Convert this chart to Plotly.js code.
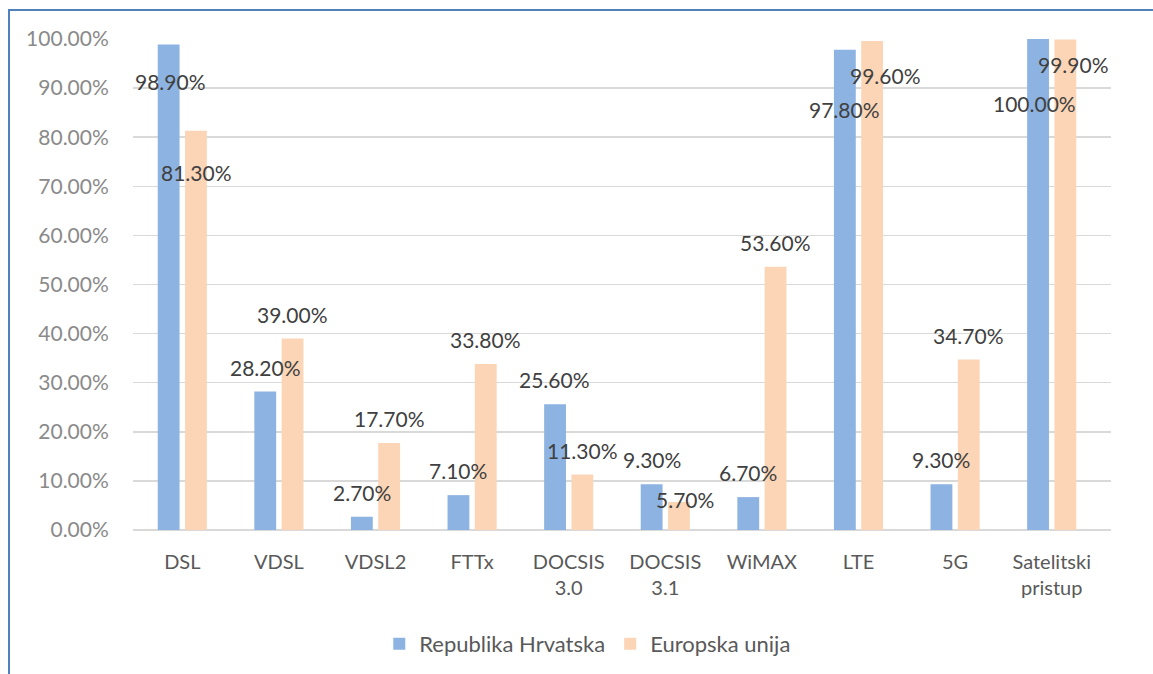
<!DOCTYPE html>
<html>
<head>
<meta charset="utf-8">
<script src="https://cdn.plot.ly/plotly-3.0.1.min.js"></script>
<style>
  html, body { margin: 0; padding: 0; background: #fff; }
  #wrap { position: relative; width: 1153px; height: 674px; overflow: hidden; }
  #chart { position: absolute; left: 0; top: 0; width: 1153px; height: 674px; }
  #frame { position: absolute; left: 8px; top: 9px; width: 1200px; height: 700px;
           border-left: 2px solid #4f81bd; border-top: 2px solid #4f81bd; pointer-events: none; }
</style>
</head>
<body>
<div id="wrap">
  <div id="chart"></div>
  <div id="frame"></div>
</div>
<script>
const categories = ["DSL", "VDSL", "VDSL2", "FTTx", "DOCSIS<br>3.0", "DOCSIS<br>3.1", "WiMAX", "LTE", "5G", "Satelitski<br>pristup"];
const seriesNames = ["Republika Hrvatska", "Europska unija"];
const croatia = [0.989, 0.282, 0.027, 0.071, 0.256, 0.093, 0.067, 0.978, 0.093, 1.000];
const eu      = [0.813, 0.390, 0.177, 0.338, 0.113, 0.057, 0.536, 0.996, 0.347, 0.999];

// label placement offsets (pixels) mimicking the original data-label positions
const hrLabelDx = [2, 0, 0, 0, 0, 0, 0, 0, 0, -3];
const hrLabelDy = [-37, 24.5, 24.5, 24.5, 24.5, 24.5, 24.5, -60, 24.5, -64];
const euLabelDx = [0, 0, 0, 0, 0, 6, 0, 13.5, 0, 8];
const euLabelDy = [-42, 24.5, 24.5, 24.5, 24.5, 2.5, 24.5, -35, 24.5, -25.5];

const colors = ["#8db3e2", "#fbd5b5"];
const fontFam = "Lato, 'Open Sans', sans-serif";

const traces = [
  { type: "bar", name: seriesNames[0], x: categories, y: croatia,
    marker: { color: colors[0] }, hoverinfo: "none" },
  { type: "bar", name: seriesNames[1], x: categories, y: eu,
    marker: { color: colors[1] }, hoverinfo: "none" }
];

const pct = v => (v * 100).toFixed(2) + "%";
const annotations = [];
categories.forEach((c, i) => {
  annotations.push({ x: c, y: croatia[i], xref: "x", yref: "y", text: pct(croatia[i]),
    showarrow: false, xshift: -13.8 + hrLabelDx[i], yshift: hrLabelDy[i],
    font: { family: fontFam, size: 21, color: "#404040" } });
  annotations.push({ x: c, y: eu[i], xref: "x", yref: "y", text: pct(eu[i]),
    showarrow: false, xshift: 13.8 + euLabelDx[i], yshift: euLabelDy[i],
    font: { family: fontFam, size: 21, color: "#404040" } });
});

const layout = {
  width: 1153, height: 674,
  margin: { l: 133, r: 42, t: 39, b: 144, autoexpand: false },
  paper_bgcolor: "#ffffff", plot_bgcolor: "#ffffff",
  barmode: "group", bargap: 0.435, bargroupgap: 0.2,
  font: { family: fontFam, color: "#595959" },
  xaxis: {
    type: "category", showgrid: false, zeroline: false, automargin: false,
    showline: false, ticks: "outside", ticklen: 14, tickcolor: "rgba(0,0,0,0)",
    tickfont: { family: fontFam, size: 20, color: "#595959" }, fixedrange: true
  },
  yaxis: {
    range: [0, 1.0], tickvals: [0, 0.1, 0.2, 0.3, 0.4, 0.5, 0.6, 0.7, 0.8, 0.9, 1.0],
    tickformat: ".2%", showgrid: true, gridcolor: "#d9d9d9", gridwidth: 1.5,
    zeroline: true, zerolinecolor: "#d9d9d9", zerolinewidth: 1.5, automargin: false,
    ticks: "outside", ticklen: 19, tickcolor: "rgba(0,0,0,0)",
    tickfont: { family: fontFam, size: 21, color: "#8a8a8a" }, fixedrange: true
  },
  showlegend: true,
  legend: { orientation: "h", x: 0.465, xanchor: "center", y: -0.232, yanchor: "middle",
            font: { family: fontFam, size: 22, color: "#595959" }, itemwidth: 30 },
  annotations: annotations
};

Plotly.newPlot("chart", traces, layout, { displayModeBar: false, staticPlot: true });
</script>
</body>
</html>
